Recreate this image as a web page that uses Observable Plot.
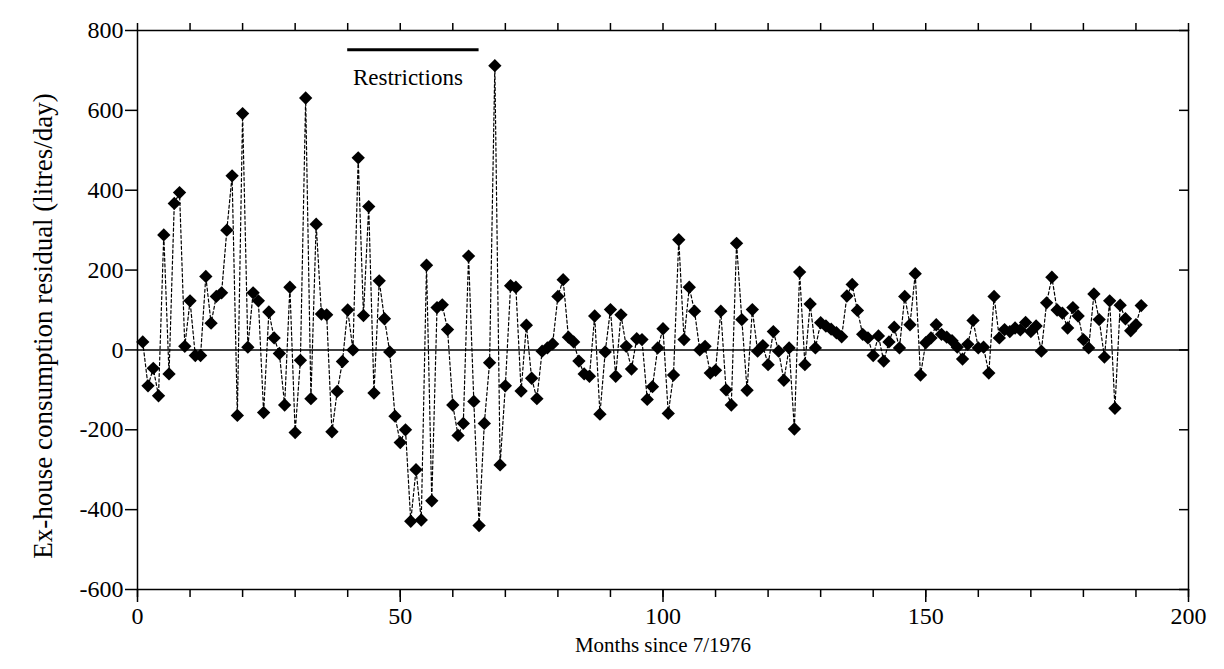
<!DOCTYPE html>
<html>
<head>
<meta charset="utf-8">
<script src="https://cdn.jsdelivr.net/npm/d3@7"></script>
<script src="https://cdn.jsdelivr.net/npm/@observablehq/plot@0.6"></script>
<style>
  html, body { margin: 0; padding: 0; background: #fff; }
  #chart svg { display: block; }
</style>
</head>
<body>
<div id="chart"></div>
<script>
// Residuals for months 1..191
const residuals = [
  20, -90, -46, -115, 288, -60, 367, 394, 9, 123,
  -14, -14, 184, 67, 134, 143, 300, 436, -164, 592,
  7, 143, 123, -157, 95, 30, -9, -138, 157, -207,
  -26, 631, -122, 315, 90, 88, -205, -104, -29, 100,
  0, 481, 86, 359, -108, 173, 78, -5, -166, -232,
  -200, -429, -300, -426, 212, -378, 106, 113, 51, -138,
  -214, -184, 235, -129, -440, -184, -32, 712, -288, -90,
  161, 157, -103, 62, -71, -122, -3, 5, 15, 134,
  176, 32, 20, -28, -60, -66, 85, -161, -5, 101,
  -66, 88, 9, -48, 28, 26, -124, -92, 5, 53,
  -159, -63, 276, 26, 157, 97, 0, 9, -58, -51,
  97, -100, -138, 267, 76, -101, 101, -3, 11, -37,
  46, -3, -76, 5, -198, 195, -37, 115, 5, 68,
  60, 52, 43, 33, 135, 164, 99, 39, 30, -14,
  35, -28, 20, 57, 5, 134, 63, 191, -63, 18,
  30, 63, 39, 32, 23, 7, -23, 14, 74, 5,
  7, -58, 134, 30, 51, 46, 55, 50, 69, 46,
  60, -3, 118, 182, 100, 92, 55, 106, 85, 26,
  5, 140, 76, -18, 123, -146, 112, 78, 48, 63,
  111
];
const firstMonth = 1;

const xTicks = [0, 50, 100, 150, 200];
const xMinorTicks = [0, 10, 20, 30, 40, 50, 60, 70, 80, 90, 100, 110, 120, 130, 140, 150, 160, 170, 180, 190, 200];
const yTicks = [-600, -400, -200, 0, 200, 400, 600, 800];

// Annotation: restriction period
const restrictionStart = [40];
const restrictionEnd = [65];
const restrictionLevel = [752];
const restrictionLabel = ["Restrictions"];
const restrictionLabelPos = [{month: 41, value: 682}];

const xTitle = "Months since 7/1976";
const yTitle = "Ex-house consumption residual (litres/day)";

const data = residuals.map((v, i) => ({month: firstMonth + i, value: v}));
const serif = "'Liberation Serif', 'DejaVu Serif', serif";

const chart = Plot.plot({
  width: 1224,
  height: 669,
  marginLeft: 137,
  marginRight: 36,
  marginTop: 30,
  marginBottom: 80,
  x: {domain: [0, 200]},
  y: {domain: [-600, 800]},
  style: {fontFamily: serif, background: "#fff", color: "#000"},
  marks: [
    Plot.frame({stroke: "#000", strokeWidth: 1.5}),
    Plot.ruleY([0], {stroke: "#000", strokeWidth: 1.5}),
    // axes
    Plot.axisY(yTicks, {anchor: "left", tickSize: 12, tickPadding: 2, fontSize: 24, label: null, tickFormat: d => d, strokeWidth: 1.5}),
    Plot.axisY(yTicks, {anchor: "right", tickSize: 10, dx: -10, tickFormat: () => "", label: null, strokeWidth: 1.5}),
    Plot.axisX(xMinorTicks, {anchor: "top", tickSize: 8, tickFormat: () => "", label: null, strokeWidth: 1.5}),
    Plot.axisX(xMinorTicks, {anchor: "bottom", tickSize: 8, tickFormat: () => "", label: null, strokeWidth: 1.5}),
    Plot.axisX(xTicks, {anchor: "bottom", tickSize: 13, tickPadding: 4, fontSize: 24, label: null, strokeWidth: 1.5}),
    Plot.text([xTitle], {frameAnchor: "bottom", textAnchor: "middle", lineAnchor: "middle", dy: 56, fontSize: 21, fill: "#000"}),
    Plot.text([yTitle], {frameAnchor: "left", textAnchor: "middle", lineAnchor: "middle", rotate: -90, dx: -94, dy: 16, fontSize: 27, fill: "#000"}),
    // data
    Plot.line(data, {x: "month", y: "value", stroke: "#000", strokeWidth: 1.2, strokeDasharray: "3,2.5"}),
    Plot.dot(data, {x: "month", y: "value", symbol: "diamond2", r: 6, fill: "#000", stroke: null}),
    // annotation
    Plot.ruleY(restrictionLevel, {x1: () => restrictionStart[0], x2: () => restrictionEnd[0], y: d => d, stroke: "#000", strokeWidth: 3}),
    Plot.text(restrictionLabelPos, {x: "month", y: "value", text: () => restrictionLabel[0], textAnchor: "start", fontSize: 23, fill: "#000"})
  ]
});

document.getElementById("chart").appendChild(chart);
</script>
</body>
</html>
